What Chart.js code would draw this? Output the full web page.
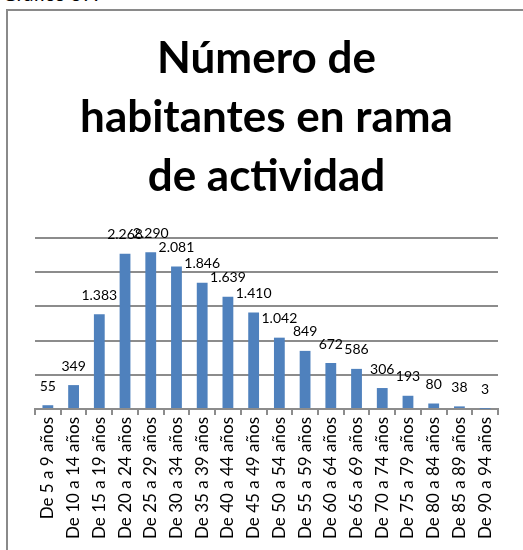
<!DOCTYPE html>
<html lang="es">
<head>
<meta charset="utf-8">
<title>Número de habitantes en rama de actividad</title>
<script src="https://cdn.jsdelivr.net/npm/chart.js@4/dist/chart.umd.min.js"></script>
<style>
  html, body { margin: 0; padding: 0; background: #fff; overflow: hidden; }
  body { width: 523px; height: 550px; position: relative; font-family: Lato, "Liberation Sans", sans-serif; }
  .caption { position: absolute; left: 2px; top: -19px; font-size: 20px; color: #000; }
  .box { position: absolute; left: 6px; top: 9px; width: 540px; height: 560px; border: 2px solid #8a8a8a; }
  .wrap { position: absolute; left: 0; top: 0; width: 523px; height: 550px; }
</style>
</head>
<body>
<div class="caption">Gráfico 57.</div>
<div class="box"></div>
<div class="wrap"><canvas id="chart"></canvas></div>
<script>
// age groups and people counted in each one
const ageGroups = [
  'De 5 a 9 años', 'De 10 a 14 años', 'De 15 a 19 años', 'De 20 a 24 años',
  'De 25 a 29 años', 'De 30 a 34 años', 'De 35 a 39 años', 'De 40 a 44 años',
  'De 45 a 49 años', 'De 50 a 54 años', 'De 55 a 59 años', 'De 60 a 64 años',
  'De 65 a 69 años', 'De 70 a 74 años', 'De 75 a 79 años', 'De 80 a 84 años',
  'De 85 a 89 años', 'De 90 a 94 años'
];
const habitantes = [55, 349, 1383, 2268, 2290, 2081, 1846, 1639, 1410, 1042, 849, 672, 586, 306, 193, 80, 38, 3];
const titleLines = ['Número de', 'habitantes en rama', 'de actividad'];

// 2268 -> "2.268"
function fmt(n) {
  return String(n).replace(/\B(?=(\d{3})+(?!\d))/g, '.');
}

// value labels above each bar
const barValues = {
  id: 'barValues',
  afterDatasetsDraw(chart) {
    const ctx = chart.ctx;
    const meta = chart.getDatasetMeta(0);
    ctx.save();
    ctx.font = '14px Lato, "Liberation Sans", sans-serif';
    ctx.fillStyle = '#000';
    ctx.textAlign = 'center';
    ctx.textBaseline = 'middle';
    meta.data.forEach((bar, i) => {
      ctx.fillText(fmt(habitantes[i]), bar.x, bar.y - 19);
    });
    ctx.restore();
  }
};

new Chart(document.getElementById('chart'), {
  type: 'bar',
  data: {
    labels: ageGroups,
    datasets: [{
      data: habitantes,
      backgroundColor: '#4f81bd',
      borderWidth: 0,
      barPercentage: 0.42,
      categoryPercentage: 1
    }]
  },
  options: {
    responsive: true,
    maintainAspectRatio: false,
    animation: false,
    layout: { padding: { left: 35, right: 25, top: 0, bottom: 9 } },
    plugins: {
      legend: { display: false },
      tooltip: { enabled: false },
      title: {
        display: true,
        text: titleLines,
        color: '#000',
        font: { family: 'Lato', weight: 'bold', size: 44, lineHeight: 1.34 },
        padding: { top: 29, bottom: 32 }
      }
    },
    scales: {
      x: {
        offset: true,
        grid: { offset: true, drawOnChartArea: false, drawTicks: true, tickLength: 6, color: '#8c8c8c', lineWidth: 2 },
        border: { color: '#8c8c8c', width: 2 },
        ticks: {
          color: '#000',
          minRotation: 90,
          maxRotation: 90,
          autoSkip: false,
          padding: 2,
          font: { family: 'Lato', size: 17 }
        }
      },
      y: {
        min: 0,
        max: 2500,
        ticks: { display: false, stepSize: 500 },
        grid: { color: '#8c8c8c', lineWidth: 2, drawTicks: false },
        border: { display: false }
      }
    }
  },
  plugins: [barValues]
});
</script>
</body>
</html>
